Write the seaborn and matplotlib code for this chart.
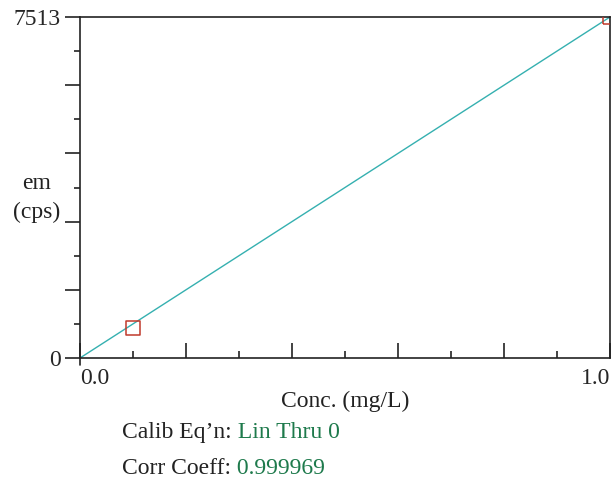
import numpy as np
import pandas as pd
import matplotlib
matplotlib.use("Agg")
import matplotlib.pyplot as plt
import seaborn as sns
from matplotlib.ticker import FixedLocator

# calibration standards
conc = [0.1, 1.0]
em = [665, 7513]
# calibration line (linear through zero)
line_x = [0.0, 1.0]
line_y = [0.0, 7513]
y_max = 7513

sns.set_style("white")
plt.rcParams['font.family'] = ['Liberation Serif', 'DejaVu Serif']
fs = 17
ink = "#222222"

W, H = 614, 478
fig = plt.figure(figsize=(W / 100, H / 100), dpi=100)
ax = fig.add_axes([80 / W, 120 / H, 530 / W, 341 / H])

df_line = pd.DataFrame({"x": line_x, "y": line_y})
df_pts = pd.DataFrame({"x": conc, "y": em})
sns.lineplot(data=df_line, x="x", y="y", ax=ax, color="#35b0b0", linewidth=1.0)
sns.scatterplot(data=df_pts, x="x", y="y", ax=ax, marker="s", s=110,
                facecolor="none", edgecolor="#c0392b", linewidth=1.1, zorder=5)

ax.set_xlim(0, 1.0)
ax.set_ylim(0, y_max)
for s in ax.spines.values():
    s.set_color(ink)
    s.set_linewidth(1.2)

ax.xaxis.set_major_locator(FixedLocator([0.0, 0.2, 0.4, 0.6, 0.8, 1.0]))
ax.xaxis.set_minor_locator(FixedLocator([0.1, 0.3, 0.5, 0.7, 0.9]))
ax.set_xticklabels(["0.0", "", "", "", "", "1.0"])
ax.tick_params(axis="x", which="major", direction="in", length=11, width=1.2,
               color=ink, labelsize=fs, pad=7, bottom=True)
ax.tick_params(axis="x", which="minor", direction="in", length=5, width=1.2,
               color=ink, bottom=True)
xl = ax.get_xticklabels()
xl[0].set_horizontalalignment("left")
xl[-1].set_horizontalalignment("right")
# short tick under the origin
ax.plot([0, 0], [0, -0.02], transform=ax.transAxes, color=ink, lw=1.2, clip_on=False)

ax.yaxis.set_major_locator(FixedLocator([y_max * f for f in [0, 0.2, 0.4, 0.6, 0.8, 1.0]]))
ax.yaxis.set_minor_locator(FixedLocator([y_max * f for f in [0.1, 0.3, 0.5, 0.7, 0.9]]))
ax.set_yticklabels(["0", "", "", "", "", "7513"])
ax.tick_params(axis="y", which="major", direction="out", length=11, width=1.2,
               color=ink, labelsize=fs, pad=3, left=True)
ax.tick_params(axis="y", which="minor", direction="out", length=4, width=1.2,
               color=ink, left=True)

ax.set_xlabel("Conc. (mg/L)", fontsize=fs, color=ink)
ax.xaxis.label.set_va("baseline")
ax.xaxis.set_label_coords(0.5, (358 - 407) / 341)
ax.set_ylabel("em\n(cps)", fontsize=fs, color=ink, rotation=0,
              ha="center", va="center", linespacing=1.45)
ax.yaxis.set_label_coords((37 - 80) / 530, (358 - 198) / 341)

green = "#1e7a4c"
t1 = fig.text(122 / W, 1 - 438 / H, "Calib Eq\u2019n:", fontsize=fs, color=ink, va="baseline")
ax.annotate(" Lin Thru 0", xy=(1, 0), xycoords=t1, va="bottom", fontsize=fs, color=green)
t2 = fig.text(122 / W, 1 - 474 / H, "Corr Coeff:", fontsize=fs, color=ink, va="baseline")
ax.annotate(" 0.999969", xy=(1, 0), xycoords=t2, va="bottom", fontsize=fs, color=green)

fig.savefig("out.png", dpi=100)
